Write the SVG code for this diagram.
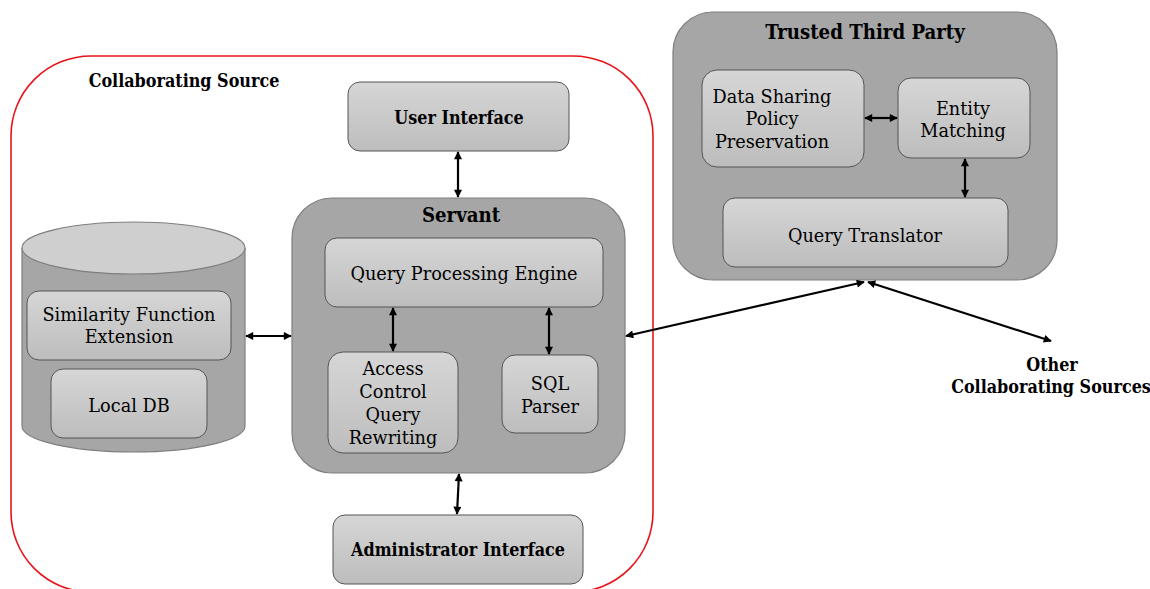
<svg xmlns="http://www.w3.org/2000/svg" width="1150" height="589" viewBox="0 0 1150 589">
<style>
.t{font-family:"DejaVu Serif","Liberation Serif",serif;font-size:17.7px;fill:#000;text-anchor:middle}
.b{font-family:"DejaVu Serif Condensed","DejaVu Serif","Liberation Serif",serif;font-stretch:condensed;font-weight:bold;font-size:17.8px;fill:#000;text-anchor:middle}
.h{font-family:"DejaVu Serif Condensed","DejaVu Serif","Liberation Serif",serif;font-stretch:condensed;font-weight:bold;font-size:20.2px;fill:#000;text-anchor:middle}
.outer{fill:#a6a6a6;stroke:#7f7f7f;stroke-width:1.2}
.inner{fill:url(#g);stroke:#555;stroke-width:1}
.conn line{stroke:#000;stroke-width:2.2;marker-start:url(#ah);marker-end:url(#ah)}
</style>
<defs>
<linearGradient id="g" x1="0" y1="0" x2="0" y2="1">
<stop offset="0" stop-color="#d6d6d6"/>
<stop offset="1" stop-color="#bdbdbd"/>
</linearGradient>
<marker id="ah" viewBox="0 0 10 10" refX="9" refY="5" markerWidth="9" markerHeight="8" markerUnits="userSpaceOnUse" orient="auto-start-reverse">
<path d="M0,0 L10,5 L0,10 z" fill="#000"/>
</marker>
</defs>
<rect width="1150" height="589" fill="#fff"/>

<g id="collaborating-source">
<rect x="11" y="56" width="642" height="536" rx="80" ry="80" fill="none" stroke="#e8141c" stroke-width="1.6"/>
<text class="b" x="184" y="87">Collaborating Source</text>
</g>

<g id="user-interface">
<rect class="inner" x="348" y="82" width="221" height="69" rx="12"/>
<text class="b" x="459" y="124">User Interface</text>
</g>

<g id="local-db-cylinder">
<path class="outer" d="M22,248 L22,426 A111.5,26 0 0 0 245,426 L245,248"/>
<ellipse cx="133.5" cy="248" rx="111.5" ry="26" fill="#cfcfcf" stroke="#7f7f7f" stroke-width="1.2"/>
</g>
<g id="similarity-function-extension">
<rect class="inner" x="27" y="291" width="204" height="69" rx="12"/>
<text class="t" x="129" y="321">Similarity Function</text>
<text class="t" x="129" y="343">Extension</text>
</g>
<g id="local-db">
<rect class="inner" x="51" y="369" width="156" height="69" rx="12"/>
<text class="t" x="129" y="412">Local DB</text>
</g>

<g id="servant">
<rect class="outer" x="292" y="198" width="333" height="275" rx="40"/>
<text class="h" x="461" y="222">Servant</text>
</g>
<g id="query-processing-engine">
<rect class="inner" x="325" y="238" width="278" height="69" rx="12"/>
<text class="t" x="464" y="280">Query Processing Engine</text>
</g>
<g id="access-control-query-rewriting">
<rect class="inner" x="328" y="352" width="130" height="101" rx="15"/>
<text class="t" x="393" y="375">Access</text>
<text class="t" x="393" y="398">Control</text>
<text class="t" x="393" y="421">Query</text>
<text class="t" x="393" y="444">Rewriting</text>
</g>
<g id="sql-parser">
<rect class="inner" x="502" y="355" width="96" height="78" rx="13"/>
<text class="t" x="550" y="390">SQL</text>
<text class="t" x="550" y="413">Parser</text>
</g>

<g id="administrator-interface">
<rect class="inner" x="333" y="515" width="250" height="69" rx="12"/>
<text class="b" x="458" y="556">Administrator Interface</text>
</g>

<g id="trusted-third-party">
<rect class="outer" x="673" y="12" width="384" height="268" rx="40"/>
<text class="h" x="865" y="39">Trusted Third Party</text>
</g>
<g id="data-sharing-policy-preservation">
<rect class="inner" x="702" y="70" width="162" height="97" rx="15"/>
<text class="t" x="772" y="103">Data Sharing</text>
<text class="t" x="772" y="125">Policy</text>
<text class="t" x="772" y="148">Preservation</text>
</g>
<g id="entity-matching">
<rect class="inner" x="898" y="78" width="132" height="80" rx="13"/>
<text class="t" x="963" y="115">Entity</text>
<text class="t" x="963" y="137">Matching</text>
</g>
<g id="query-translator">
<rect class="inner" x="723" y="198" width="285" height="69" rx="12"/>
<text class="t" x="865" y="242">Query Translator</text>
</g>

<g id="other-collaborating-sources">
<text class="b" x="1052" y="371">Other</text>
<text class="b" x="1051" y="393">Collaborating Sources</text>
</g>

<g class="conn" id="connectors">
<line x1="458" y1="152" x2="458" y2="197"/>
<line x1="459" y1="474" x2="457" y2="514"/>
<line x1="246" y1="336" x2="291" y2="336"/>
<line x1="393" y1="308" x2="393" y2="351"/>
<line x1="549" y1="308" x2="549" y2="354"/>
<line x1="865" y1="118" x2="897" y2="118"/>
<line x1="965" y1="159" x2="965" y2="197"/>
<line x1="626" y1="336" x2="864" y2="282"/>
<line x1="868" y1="282" x2="1051" y2="341"/>
</g>
</svg>
